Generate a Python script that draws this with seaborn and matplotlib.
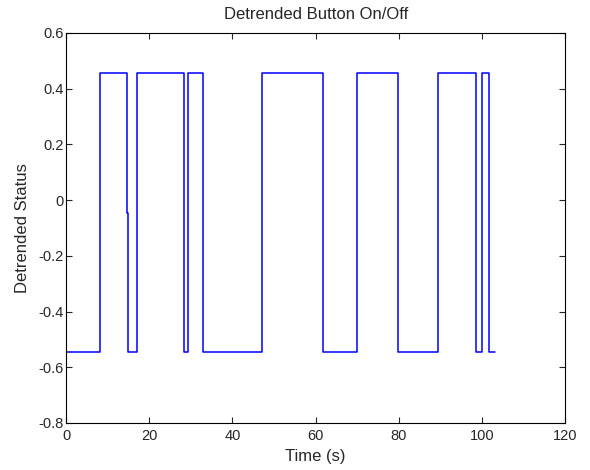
import matplotlib
matplotlib.use("Agg")
import matplotlib.pyplot as plt
import seaborn as sns
import pandas as pd

# Change points of the detrended button signal (steps-post)
time_s = [0, 8.2, 14.6, 15.0, 17.0, 28.4, 29.4, 33.0, 47.2, 61.7, 69.9, 79.7, 89.3, 98.5, 100.1, 101.7, 103.2]
status = [-0.545, 0.455, -0.045, -0.545, 0.455, -0.545, 0.455, -0.545, 0.455, -0.545, 0.455, -0.545, 0.455, -0.545, 0.455, -0.545, -0.545]

xticks = [0, 20, 40, 60, 80, 100, 120]
yticks = [-0.8, -0.6, -0.4, -0.2, 0, 0.2, 0.4, 0.6]
ytick_labels = ["-0.8", "-0.6", "-0.4", "-0.2", "0", "0.2", "0.4", "0.6"]

sns.set_style("ticks")
plt.rcParams['font.family'] = ['Liberation Sans', 'DejaVu Sans']

df = pd.DataFrame({"t": time_s, "v": status})
fig = plt.figure(figsize=(5.9, 4.7), dpi=100)
ax = fig.add_axes([0.112, 0.1, 0.846, 0.83])
sns.lineplot(data=df, x="t", y="v", ax=ax, drawstyle="steps-post",
             estimator=None, color="#0000ff", linewidth=1.1)

ax.set_xlim(0, 120)
ax.set_ylim(-0.8, 0.6)
ax.set_xticks(xticks)
ax.set_xticklabels([str(x) for x in xticks])
ax.set_yticks(yticks)
ax.set_yticklabels(ytick_labels)
ax.tick_params(direction="in", length=4, width=0.8, labelsize=10.5, top=True, right=True,
               labeltop=False, labelright=False)
ax.tick_params(axis="x", pad=4)
ax.tick_params(axis="y", pad=2)
for s in ax.spines.values():
    s.set_visible(True)
    s.set_linewidth(0.8)
    s.set_color("black")
ax.set_xlabel("Time (s)", fontsize=12, labelpad=5)
ax.set_ylabel("Detrended Status", fontsize=12, labelpad=6)
ax.set_title("Detrended Button On/Off", fontsize=12, pad=10)

fig.savefig("out.png", dpi=100)
